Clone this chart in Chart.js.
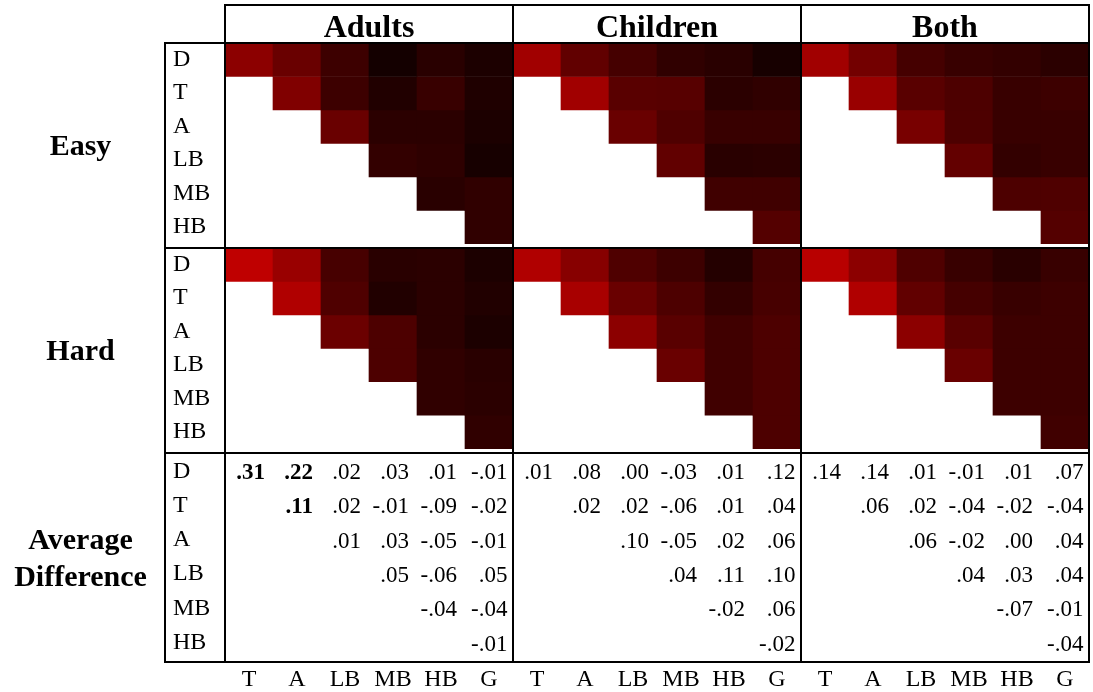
<!DOCTYPE html>
<html>
<head>
<meta charset="utf-8">
<script src="https://cdn.jsdelivr.net/npm/chart.js@4/dist/chart.umd.min.js"></script>
<style>
  html, body { margin: 0; padding: 0; background: #fff; }
  #wrap { width: 1093px; height: 692px; }
</style>
</head>
<body>
<div id="wrap"><canvas id="c" width="1093" height="692"></canvas></div>
<script>
// ---- Categories ----
const GROUPS = ['Adults', 'Children', 'Both'];
const PAIR_ROWS = ['D', 'T', 'A', 'LB', 'MB', 'HB'];
const PAIR_COLS = ['T', 'A', 'LB', 'MB', 'HB', 'G'];
const BLOCK_LABELS = [['Easy'], ['Hard'], ['Average', 'Difference']];

// ---- Heat levels (0..1), upper triangle: row i holds columns i..G ----
const easyAdults = [
  [0.55, 0.41, 0.24, 0.08, 0.16, 0.11],
  [0.50, 0.24, 0.13, 0.22, 0.12],
  [0.41, 0.17, 0.17, 0.11],
  [0.20, 0.18, 0.09],
  [0.16, 0.19],
  [0.19]
];
const easyChildren = [
  [0.63, 0.38, 0.27, 0.19, 0.16, 0.09],
  [0.63, 0.35, 0.34, 0.17, 0.19],
  [0.41, 0.31, 0.22, 0.22],
  [0.38, 0.16, 0.17],
  [0.25, 0.25],
  [0.33]
];
const easyBoth = [
  [0.63, 0.45, 0.27, 0.22, 0.20, 0.17],
  [0.60, 0.35, 0.30, 0.22, 0.24],
  [0.47, 0.30, 0.22, 0.22],
  [0.39, 0.20, 0.22],
  [0.30, 0.31],
  [0.33]
];
const hardAdults = [
  [0.75, 0.60, 0.28, 0.16, 0.17, 0.11],
  [0.69, 0.31, 0.13, 0.17, 0.13],
  [0.42, 0.30, 0.17, 0.11],
  [0.30, 0.19, 0.16],
  [0.19, 0.17],
  [0.19]
];
const hardChildren = [
  [0.69, 0.53, 0.31, 0.24, 0.14, 0.27],
  [0.66, 0.41, 0.30, 0.20, 0.28],
  [0.55, 0.35, 0.25, 0.30],
  [0.41, 0.25, 0.30],
  [0.25, 0.30],
  [0.30]
];
const hardBoth = [
  [0.72, 0.55, 0.31, 0.22, 0.16, 0.22],
  [0.69, 0.38, 0.27, 0.22, 0.24],
  [0.55, 0.35, 0.24, 0.24],
  [0.41, 0.24, 0.24],
  [0.24, 0.24],
  [0.25]
];

// ---- Average difference table, same triangular layout ----
const diffAdults = [
  [0.31, 0.22, 0.02, 0.03, 0.01, -0.01],
  [0.11, 0.02, -0.01, -0.09, -0.02],
  [0.01, 0.03, -0.05, -0.01],
  [0.05, -0.06, 0.05],
  [-0.04, -0.04],
  [-0.01]
];
const diffChildren = [
  [0.01, 0.08, 0.00, -0.03, 0.01, 0.12],
  [0.02, 0.02, -0.06, 0.01, 0.04],
  [0.10, -0.05, 0.02, 0.06],
  [0.04, 0.11, 0.10],
  [-0.02, 0.06],
  [-0.02]
];
const diffBoth = [
  [0.14, 0.14, 0.01, -0.01, 0.01, 0.07],
  [0.06, 0.02, -0.04, -0.02, -0.04],
  [0.06, -0.02, 0.00, 0.04],
  [0.04, 0.03, 0.04],
  [-0.07, -0.01],
  [-0.04]
];
// cells set in bold: [group, row, column]
const diffBold = [[0, 0, 0], [0, 0, 1], [0, 1, 1]];

// ---- Layout in row units on the y scale ----
const BLOCK_SPAN = 6.125;
const Y_MAX = 18.5;
const DIFF_FIRST = 2 * BLOCK_SPAN + 0.55;
const DIFF_STEP = 1.025;

const easyPanels = [easyAdults, easyChildren, easyBoth];
const hardPanels = [hardAdults, hardChildren, hardBoth];
const diffPanels = [diffAdults, diffChildren, diffBoth];

const SERIF = '"Liberation Serif", "Times New Roman", serif';

function shade(v) {
  return 'rgb(' + Math.round(v * 255) + ',0,0)';
}
function fmtDiff(v) {
  const s = Math.abs(v).toFixed(2).replace(/^0/, '');
  return (v < 0 ? '-' : '') + s;
}

const xLabels = GROUPS.flatMap(() => PAIR_COLS);

const datasets = [];
[easyPanels, hardPanels].forEach((panels, b) => {
  PAIR_ROWS.forEach((r, i) => {
    const data = [];
    const colors = [];
    panels.forEach(m => {
      PAIR_COLS.forEach((c, j) => {
        if (j >= i) {
          data.push([b * BLOCK_SPAN + i, b * BLOCK_SPAN + i + 1]);
          colors.push(shade(m[i][j - i]));
        } else {
          data.push(null);
          colors.push('rgba(0,0,0,0)');
        }
      });
    });
    datasets.push({
      label: (b === 0 ? 'Easy ' : 'Hard ') + r,
      data,
      backgroundColor: colors,
      borderWidth: 0,
      grouped: false,
      barPercentage: 1,
      categoryPercentage: 1
    });
  });
});

const yTickValues = [
  ...PAIR_ROWS.map((r, i) => i + 0.5),
  ...PAIR_ROWS.map((r, i) => BLOCK_SPAN + i + 0.5),
  ...PAIR_ROWS.map((r, i) => DIFF_FIRST + i * DIFF_STEP)
];

// Frame, headers, block titles and the difference table
const framePlugin = {
  id: 'frame',
  afterDraw(chart) {
    const { ctx, chartArea: a, scales: { x, y } } = chart;
    const colW = x.getPixelForValue(1) - x.getPixelForValue(0);
    const panelEdge = p => x.getPixelForValue(p * 6) - colW / 2;
    const leftEdge = y.left - 8;
    const headTop = a.top - 38;
    const blockEdge = b => y.getPixelForValue(b * BLOCK_SPAN);

    ctx.save();
    ctx.strokeStyle = '#000';
    ctx.lineWidth = 2;
    ctx.beginPath();
    // header boxes
    ctx.rect(a.left, headTop, a.right - a.left, a.top - headTop);
    // main frame including the row-label column
    ctx.rect(leftEdge, a.top, a.right - leftEdge, a.bottom - a.top);
    // panel dividers
    for (let p = 0; p < 3; p++) {
      const px = Math.round(panelEdge(p));
      ctx.moveTo(px, headTop);
      ctx.lineTo(px, a.bottom);
    }
    // block dividers
    for (let b = 1; b < 3; b++) {
      const py = Math.round(blockEdge(b));
      ctx.moveTo(leftEdge, py);
      ctx.lineTo(a.right, py);
    }
    ctx.stroke();

    ctx.fillStyle = '#000';
    // group headers
    ctx.font = 'bold 32px ' + SERIF;
    ctx.textAlign = 'center';
    ctx.textBaseline = 'alphabetic';
    GROUPS.forEach((g, p) => {
      ctx.fillText(g, (panelEdge(p) + panelEdge(p + 1)) / 2, a.top - 6.5);
    });

    // block titles
    ctx.font = 'bold 30px ' + SERIF;
    BLOCK_LABELS.forEach((lines, b) => {
      const top = blockEdge(b);
      const bottom = b < 2 ? blockEdge(b + 1) : a.bottom;
      const mid = (top + bottom) / 2;
      const lh = 37;
      lines.forEach((t, k) => {
        const cy = mid + (k - (lines.length - 1) / 2) * lh;
        ctx.fillText(t, leftEdge / 2 - 2, cy + 10);
      });
    });

    // difference values
    ctx.textAlign = 'right';
    diffPanels.forEach((m, p) => {
      m.forEach((row, i) => {
        row.forEach((v, k) => {
          const j = i + k;
          const bold = diffBold.some(d => d[0] === p && d[1] === i && d[2] === j);
          ctx.font = (bold ? 'bold ' : '') + '23px ' + SERIF;
          const cx = x.getPixelForValue(p * 6 + j) + (j === 5 ? 18.5 : 16);
          const cy = y.getPixelForValue(DIFF_FIRST + i * DIFF_STEP) + 7.8;
          ctx.fillText(fmtDiff(v), cx, cy);
        });
      });
    });
    ctx.restore();
  }
};

new Chart(document.getElementById('c'), {
  type: 'bar',
  data: { labels: xLabels, datasets },
  options: {
    responsive: false,
    animation: false,
    devicePixelRatio: 1,
    layout: { padding: { left: 173, top: 43, right: 4, bottom: 0 } },
    plugins: { legend: { display: false }, tooltip: { enabled: false } },
    scales: {
      x: {
        type: 'category',
        grid: { display: false, drawTicks: false },
        border: { display: false },
        ticks: {
          color: '#000',
          font: { family: SERIF, size: 24 },
          padding: 3,
          maxRotation: 0,
          autoSkip: false
        },
        afterFit(scale) { scale.height = 30; }
      },
      y: {
        type: 'linear',
        reverse: true,
        min: 0,
        max: Y_MAX,
        grid: { display: false, drawTicks: false },
        border: { display: false },
        afterBuildTicks(scale) {
          scale.ticks = yTickValues.map(v => ({ value: v }));
        },
        ticks: {
          color: '#000',
          font: { family: SERIF, size: 24 },
          crossAlign: 'far',
          autoSkip: false,
          callback: (v, i) => PAIR_ROWS[i % 6]
        },
        afterFit(scale) { scale.width = 52; }
      }
    }
  },
  plugins: [framePlugin]
});
</script>
</body>
</html>
